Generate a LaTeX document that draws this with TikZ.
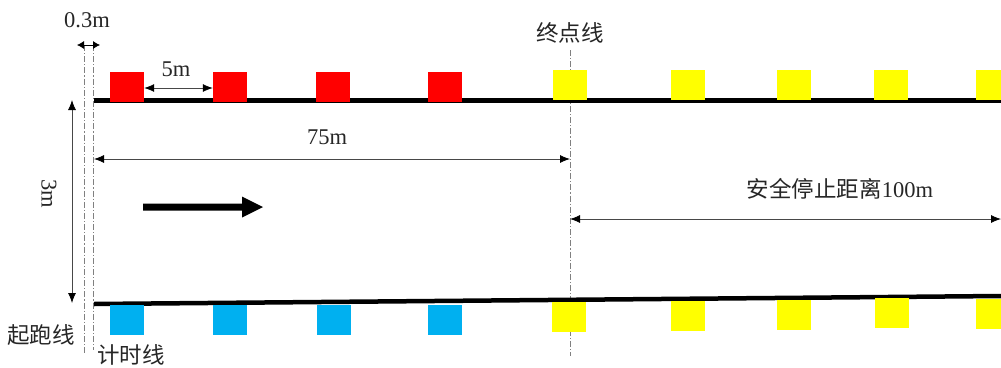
\documentclass[tikz,border=0pt]{standalone}
\usepackage{fontspec}
\setmainfont{Liberation Serif}
\newfontfamily\cjk{Noto Sans CJK SC}
\usetikzlibrary{arrows.meta}
\definecolor{sqred}{HTML}{FF0000}
\definecolor{sqyel}{HTML}{FFFF00}
\definecolor{sqblue}{HTML}{00B0F0}
\definecolor{txt}{HTML}{262626}
\tikzset{
  sq/.style={rectangle,inner sep=0pt,minimum width=34pt,minimum height=30pt,draw=none},
  redsq/.style={sq,fill=sqred},
  yelsq/.style={sq,fill=sqyel},
  bluesq/.style={sq,fill=sqblue},
  track/.style={line width=4.5pt,black},
  guide/.style={gray,line width=0.7pt,dash pattern=on 6pt off 2pt on 1.2pt off 2pt},
  dim/.style={txt!85,line width=0.8pt,{Latex[length=10pt,width=8pt,color=black]}-{Latex[length=10pt,width=8pt,color=black]}},
  lbl/.style={inner sep=0pt,text=txt,font=\fontsize{22.5}{24}\selectfont},
}
\begin{document}
\begin{tikzpicture}[x=1pt,y=-1pt]
\useasboundingbox (0,0) rectangle (1001,367);
\clip (0,0) rectangle (1001,367);
% guide lines
\coordinate (s1t) at (84.5,45); \coordinate (s1b) at (84.5,355);
\coordinate (s2t) at (93.5,45); \coordinate (s2b) at (93.5,350);
\coordinate (ft) at (570,50); \coordinate (fb) at (570,356);
\draw[guide] (s1t) -- (s1b);
\draw[guide] (s2t) -- (s2b);
\draw[guide] (ft) -- (fb);
% tracks
\coordinate (tl) at (94,100.5); \coordinate (tr) at (1001,100.5);
\coordinate (bl) at (94,304); \coordinate (br) at (1001,296);
\draw[track] (tl) -- (tr);
\draw[track] (bl) -- (br);
% top squares
\node[redsq] (r1) at (127,87) {};
\node[redsq] (r2) at (230,87) {};
\node[redsq] (r3) at (333,87) {};
\node[redsq] (r4) at (445,87) {};
\node[yelsq] (y1) at (570,85) {};
\node[yelsq] (y2) at (688,85) {};
\node[yelsq] (y3) at (794,85) {};
\node[yelsq] (y4) at (891,85) {};
\node[yelsq] (y5) at (993,85) {};
% bottom squares
\node[bluesq] (b1) at (127,320) {};
\node[bluesq] (b2) at (230,320) {};
\node[bluesq] (b3) at (334,320) {};
\node[bluesq] (b4) at (445,320) {};
\node[yelsq] (z1) at (569,317) {};
\node[yelsq] (z2) at (688,315.5) {};
\node[yelsq] (z3) at (794,314.5) {};
\node[yelsq] (z4) at (892,312.5) {};
\node[yelsq] (z5) at (993,314) {};
% dimensions
\coordinate (a03l) at (77,45); \coordinate (a03r) at (100,45);
\draw[black,line width=0.8pt,{Latex[length=7pt,width=8pt]}-{Latex[length=7pt,width=8pt]}] (a03l) -- (a03r);
\node[lbl] (t03) at (87,20) {0.3m};
\draw[dim] (r1.east |- 0,88) -- (r2.west |- 0,88);
\node[lbl] (t5) at (176,69) {5m};
\coordinate (a3t) at (72,100); \coordinate (a3b) at (72,303);
\draw[dim] (a3t) -- (a3b);
\node[lbl,rotate=-90] (t3) at (49,194) {3m};
\coordinate (a75l) at (94,159); \coordinate (a75r) at (570,159);
\draw[dim] (a75l) -- (a75r);
\node[lbl] (t75) at (327,137) {75m};
\coordinate (a100l) at (570,219); \coordinate (a100r) at (1001,219);
\draw[dim] (a100l) -- (a100r);
\node[lbl] (t100) at (840,189) {{\cjk 安全停止距离}100m};
% labels
\node[lbl] (tfin) at (570,33) {\cjk 终点线};
\node[lbl] (tstart) at (41,335) {\cjk 起跑线};
\node[lbl] (ttime) at (131,355) {\cjk 计时线};
% direction arrow
\fill[black] (143,203.5) -- (242,203.5) -- (242,196.5) -- (263,207) -- (242,217.5) -- (242,210.5) -- (143,210.5) -- cycle;
\end{tikzpicture}
\end{document}
